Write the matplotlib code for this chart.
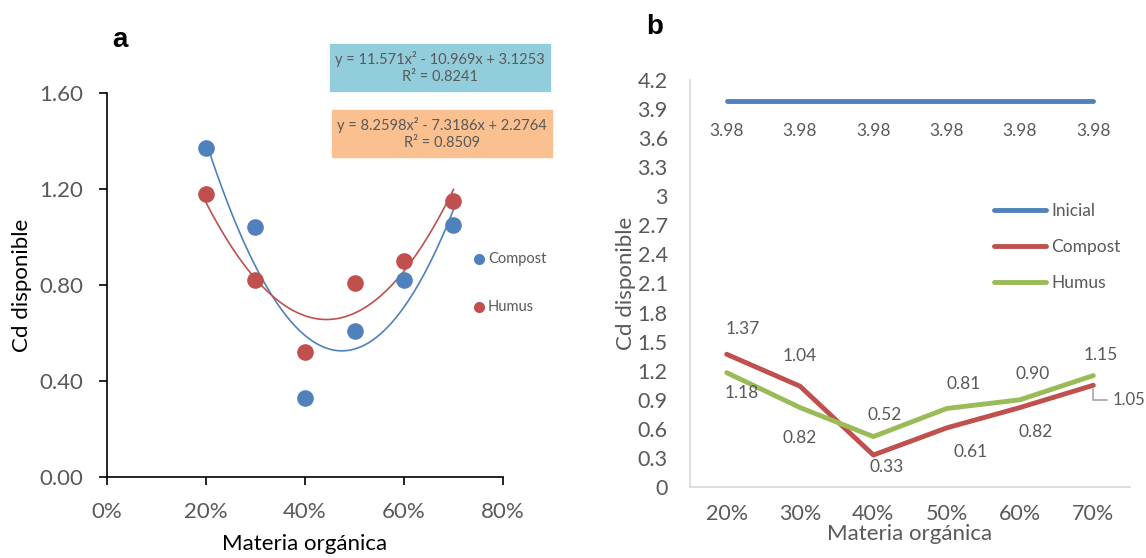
import numpy as np
import matplotlib
matplotlib.use("Agg")
import matplotlib.pyplot as plt
from matplotlib.patches import Rectangle
from matplotlib.lines import Line2D

plt.rcParams['font.family'] = ['Lato', 'DejaVu Sans']

# -------------------------
# Data
# -------------------------
materia = [0.2, 0.3, 0.4, 0.5, 0.6, 0.7]
categorias = ["20%", "30%", "40%", "50%", "60%", "70%"]
compost = [1.37, 1.04, 0.33, 0.61, 0.82, 1.05]
humus = [1.18, 0.82, 0.52, 0.81, 0.90, 1.15]
inicial = [3.98, 3.98, 3.98, 3.98, 3.98, 3.98]
eq_compost = "y = 11.571x² - 10.969x + 3.1253\nR² = 0.8241"
eq_humus = "y = 8.2598x² - 7.3186x + 2.2764\nR² = 0.8509"

BLUE = "#4F81BD"
RED = "#C0504D"
GREEN = "#9BBB59"
GRAY = "#595959"

W, H = 1146, 558
fig = plt.figure(figsize=(W / 100, H / 100), dpi=100)

def fx(px):
    return px / W

def fy(py):
    return 1 - py / H

# -------------------------
# Panel a: scatter + quadratic trendlines
# -------------------------
ax1 = fig.add_axes([fx(107), fy(477), fx(503 - 107), (477 - 93) / H])
ax1.patch.set_alpha(0)
ax1.scatter(materia, compost, s=120, color=BLUE, zorder=3)
ax1.scatter(materia, humus, s=120, color=RED, zorder=3)

xs = np.linspace(0.2, 0.7, 200)
for vals, c in [(compost, BLUE), (humus, RED)]:
    coef = np.polyfit(materia, vals, 2)
    ax1.plot(xs, np.polyval(coef, xs), color=c, lw=1.2, zorder=2)

ax1.set_xlim(0, 0.8)
ax1.set_ylim(0, 1.6)
xt = np.arange(0, 0.81, 0.2)
ax1.set_xticks(xt)
ax1.set_xticklabels([f"{int(round(v * 100))}%" for v in xt])
ytk = np.arange(0, 1.61, 0.4)
ax1.set_yticks(ytk)
ax1.set_yticklabels([f"{v:.2f}" for v in ytk])
for s in ["top", "right"]:
    ax1.spines[s].set_visible(False)
for s in ["left", "bottom"]:
    ax1.spines[s].set_linewidth(1.2)
ax1.tick_params(axis="both", direction="out", length=6, width=1.2,
                labelsize=16, labelcolor=GRAY)
ax1.tick_params(axis="x", pad=12)
ax1.tick_params(axis="y", pad=11)
ax1.set_xlabel("Materia orgánica", fontsize=16, labelpad=9)
ax1.set_ylabel("Cd disponible", fontsize=16, labelpad=5)

# legend a
fig.add_artist(Line2D([fx(479)], [fy(259)], marker="o", ms=7, color=BLUE, ls=""))
fig.text(fx(488), fy(259), "Compost", fontsize=10.5, color=GRAY, va="center")
fig.add_artist(Line2D([fx(479)], [fy(307)], marker="o", ms=7, color=RED, ls=""))
fig.text(fx(488), fy(307), "Humus", fontsize=10.5, color=GRAY, va="center")

# equation boxes
fig.add_artist(Rectangle((fx(330), fy(91)), fx(220), 47 / H,
                         transform=fig.transFigure, color="#92CDDC", zorder=5))
fig.text(fx(440), fy(67.5), eq_compost, ha="center", va="center",
         fontsize=10.5, color=GRAY, linespacing=1.3, zorder=6)
fig.add_artist(Rectangle((fx(332), fy(157)), fx(220), 47 / H,
                         transform=fig.transFigure, color="#FAC090", zorder=5))
fig.text(fx(442), fy(133.5), eq_humus, ha="center", va="center",
         fontsize=10.5, color=GRAY, linespacing=1.3, zorder=6)

fig.text(fx(120), fy(40), "a", fontsize=20, fontweight="bold",
         family="Liberation Sans", ha="center", va="center")

# -------------------------
# Panel b: line chart
# -------------------------
ax2 = fig.add_axes([fx(690), fy(487), fx(1130 - 690), (487 - 80) / H])
pos = np.arange(len(categorias))
ax2.plot(pos, inicial, color=BLUE, lw=3.5, solid_capstyle="round", label="Inicial")
ax2.plot(pos, compost, color=RED, lw=3.5, solid_capstyle="round", label="Compost")
ax2.plot(pos, humus, color=GREEN, lw=3.5, solid_capstyle="round", label="Humus")

ax2.set_xlim(-0.5, 5.5)
ax2.set_ylim(0, 4.2)
yt = np.round(np.arange(0, 4.21, 0.3), 1)
ax2.set_yticks(yt)
ax2.set_yticklabels([f"{v:g}" for v in yt])
ax2.set_xticks(pos)
ax2.set_xticklabels(categorias)
for s in ["top", "right"]:
    ax2.spines[s].set_visible(False)
for s in ["left", "bottom"]:
    ax2.spines[s].set_color("#D9D9D9")
    ax2.spines[s].set_linewidth(1.2)
ax2.tick_params(axis="both", length=0, labelcolor=GRAY)
ax2.tick_params(axis="x", pad=12, labelsize=15.5)
ax2.tick_params(axis="y", pad=16, labelsize=15.5)
ax2.set_xlabel("Materia orgánica", fontsize=16, color=GRAY, labelpad=0)
ax2.set_ylabel("Cd disponible", fontsize=16, color=GRAY, labelpad=1)

# data labels (offsets in pixels)
lab_kw = dict(textcoords="offset pixels", ha="center", va="center",
              fontsize=12.5, color=GRAY)
for i, v in enumerate(inicial):
    ax2.annotate(f"{v:.2f}", (pos[i], v), xytext=(0, -30), **lab_kw)

comp_off = [(16, 25), (0, 30), (13, -12), (24, -24), (16, -24)]
for i, (dx, dy) in enumerate(comp_off):
    ax2.annotate(f"{compost[i]:.2f}", (pos[i], compost[i]), xytext=(dx, dy), **lab_kw)
ax2.annotate(f"{compost[5]:.2f}", (pos[5], compost[5]), xytext=(19, -15),
             textcoords="offset pixels", ha="left", va="center",
             fontsize=12, color=GRAY,
             arrowprops=dict(arrowstyle="-", color="#A6A6A6", lw=1.2,
                             shrinkA=2, shrinkB=3,
                             connectionstyle="angle,angleA=0,angleB=90,rad=0"))

hum_off = [(15, -20), (0, -30), (11, 22), (17, 25), (13, 26), (7, 21)]
for i, (dx, dy) in enumerate(hum_off):
    ax2.annotate(f"{humus[i]:.2f}", (pos[i], humus[i]), xytext=(dx, dy), **lab_kw)

leg = ax2.legend(loc="upper left", bbox_to_anchor=(0.655, 0.737), frameon=False,
                 fontsize=12.5, handlelength=3.0, labelspacing=1.15,
                 handletextpad=0.3, labelcolor=GRAY)

fig.text(fx(655), fy(27), "b", fontsize=20, fontweight="bold",
         family="Liberation Sans", ha="center", va="center")

fig.savefig("out.png", dpi=100)
